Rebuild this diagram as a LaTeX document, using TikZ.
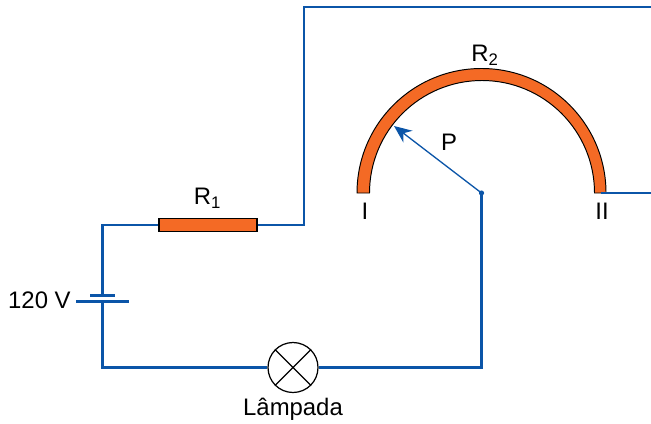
\documentclass[tikz,border=0pt]{standalone}
\usepackage{fontspec}
\setmainfont{Liberation Sans}
\usepackage{xcolor}
\usetikzlibrary{arrows.meta,positioning,calc}
\definecolor{wireblue}{HTML}{0B55A8}
\definecolor{resorange}{HTML}{F46A25}
\tikzset{
  wire/.style={draw=wireblue,line width=1.3pt},
  plate/.style={draw=wireblue,line width=1.8pt},
  lbl/.style={inner sep=0pt,font=\fontsize{13.6}{16}\selectfont},
  res/.style={draw=black,fill=resorange,line width=0.7pt,minimum width=1.96cm,minimum height=0.25cm,inner sep=0pt},
  lamp/.style={circle,draw=black,fill=white,line width=0.7pt,minimum size=1cm,inner sep=0pt},
}
\begin{document}
\begin{tikzpicture}[x=0.02cm,y=0.02cm]
	\useasboundingbox (0,0) rectangle (651,423);
	% points of the circuit
	\coordinate (cornerA) at (102.5,198);
	\coordinate (cornerB) at (304,198);
	\coordinate (topL) at (304,416);
	\coordinate (topR) at (651,416);
	\coordinate (cornerC) at (102.5,55.5);
	\coordinate (cornerD) at (481.5,55.5);
	\coordinate (pivot) at (481.5,230);
	\coordinate (arcEnd) at (600.5,230);
	\coordinate (rightEnd) at (651,230);
	\coordinate (tip) at (394,297);
	\coordinate (shortL) at (90,127.7);
	\coordinate (shortR) at (115,127.7);
	\coordinate (longL) at (76,121.5);
	\coordinate (longR) at (129,121.5);
	\coordinate (battTop) at (102.5,127.7);
	\coordinate (battBot) at (102.5,121.5);
	% elements
	\node[res] (R1) at (208,198) {};
	\node[lamp] (L) at (293,55.5) {};
	\draw[line width=0.7pt] (L.45) -- (L.225) (L.135) -- (L.315);
	% curved resistor
	\draw[fill=resorange,line width=0.55pt] (357,230) arc (180:0:124.5) -- (594.5,230) arc (0:180:112.5) -- cycle;
	% wires
	\draw[wire] (R1) -- (cornerA) -- (battTop);
	\draw[wire] (battBot) -- (cornerC) -- (L);
	\draw[wire] (R1) -- (cornerB) -- (topL) -- (topR);
	\draw[wire] (L) -- (cornerD) -- (pivot);
	\draw[wire] (arcEnd) -- (rightEnd);
	\draw[plate] (shortL) -- (shortR);
	\draw[plate] (longL) -- (longR);
	% sliding contact
	\draw[draw=wireblue,line width=0.75pt,-{Stealth[length=10pt,width=8.5pt]}] (pivot) -- (tip);
	\fill[wireblue] (pivot) circle (2.6);
	% labels
	\node[lbl] (labR1) at (207.5,225) {R\textsubscript{1}};
	\node[lbl] (labR2) at (485,368) {R\textsubscript{2}};
	\node[lbl] (labP) at (449,281) {P};
	\node[lbl] (labI) at (365,212) {I};
	\node[lbl] (labII) at (602,212) {II};
	\node[lbl,anchor=east] (labV) at (71,123) {120 V};
	\node[lbl] (labL) at (293,13.5) {Lâmpada};
\end{tikzpicture}
\end{document}
